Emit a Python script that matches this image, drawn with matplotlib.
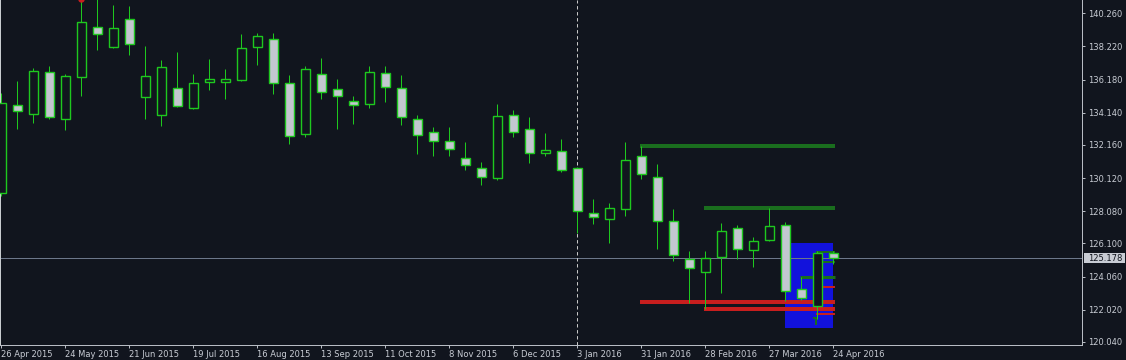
import matplotlib
matplotlib.use('Agg')
import matplotlib.pyplot as plt
from matplotlib.patches import Rectangle

# ---------------- data (weekly OHLC) ----------------
opens = [129.19, 134.60, 134.05, 136.63, 133.74, 136.32, 139.40, 138.21, 139.89, 135.13,
         134.02, 135.65, 134.42, 136.02, 136.02, 136.18, 138.17, 138.66, 135.95, 132.82,
         136.51, 135.59, 134.85, 134.66, 136.57, 135.65, 133.74, 132.94, 132.39, 131.34,
         130.73, 130.11, 133.99, 133.12, 131.65, 131.77, 130.73, 127.96, 127.59, 128.20,
         131.46, 130.17, 127.47, 125.13, 124.33, 125.25, 127.03, 125.68, 126.30, 127.22,
         123.28, 122.24, 125.50]
highs = [135.34, 136.10, 136.88, 137.02, 136.53, 141.25, 141.30, 140.77, 140.71, 138.25,
         137.39, 137.88, 136.53, 137.45, 136.83, 138.99, 139.05, 139.05, 136.46, 137.02,
         137.49, 136.22, 135.15, 137.02, 137.02, 136.46, 133.99, 133.27, 133.27, 132.32,
         131.11, 134.68, 134.31, 133.88, 132.90, 132.53, 130.79, 128.84, 128.59, 132.34,
         132.08, 130.99, 128.22, 125.64, 125.64, 127.34, 127.22, 126.48, 128.28, 127.40,
         124.06, 125.64, 125.64]
lows = [129.05, 133.16, 133.53, 133.78, 133.10, 135.19, 138.02, 138.14, 137.71, 133.78,
        133.35, 134.51, 134.40, 135.56, 135.01, 136.11, 137.10, 135.31, 132.24, 132.67,
        135.01, 133.16, 133.47, 134.45, 134.82, 133.41, 131.62, 131.50, 131.50, 130.64,
        129.70, 130.01, 132.67, 131.07, 131.50, 130.52, 126.76, 127.32, 126.15, 127.81,
        130.09, 125.78, 125.04, 122.46, 122.05, 123.07, 125.13, 124.67, 126.28, 122.54,
        122.61, 121.44, 124.82]
closes = [134.72, 134.23, 136.69, 133.86, 136.38, 139.71, 138.97, 139.34, 138.35, 136.38,
          136.94, 134.58, 135.95, 136.20, 136.20, 138.11, 138.85, 135.95, 132.69, 136.82,
          135.40, 135.15, 134.60, 136.63, 135.71, 133.86, 132.76, 132.39, 131.89, 130.91,
          130.17, 133.92, 132.94, 131.65, 131.83, 130.60, 128.12, 127.71, 128.26, 131.22,
          130.36, 127.47, 125.37, 124.57, 125.19, 126.85, 125.74, 126.23, 127.16, 123.16,
          122.73, 125.50, 125.178]

date_labels = ['26 Apr 2015', '24 May 2015', '21 Jun 2015', '19 Jul 2015', '16 Aug 2015',
               '13 Sep 2015', '11 Oct 2015', '8 Nov 2015', '6 Dec 2015', '3 Jan 2016',
               '31 Jan 2016', '28 Feb 2016', '27 Mar 2016', '24 Apr 2016']
date_bars = [0, 4, 8, 12, 16, 20, 24, 28, 32, 36, 40, 44, 48, 52]
separator_bar = 36

price_ticks = [140.260, 138.220, 136.180, 134.140, 132.160, 130.120, 128.080,
               126.100, 124.060, 122.020, 120.040]
bid_price = 125.178

# support / resistance levels: price, start bar, colour kind
level_prices = [132.08, 128.28, 122.50, 122.07]
level_start = [40, 44, 40, 44]
level_kind = ['res', 'res', 'sup', 'sup']

small_level_prices = [125.60, 124.98, 124.01, 123.43, 121.75]
small_level_start = [51, 51.4, 50, 51.4, 51]
small_level_kind = ['res', 'res', 'res', 'sup', 'sup']
small_level_width = [2, 2, 3, 2, 2]

zone_bars = [49, 52]
zone_prices = [120.90, 126.13]

fractal_bar = 5
fractal_price = 141.11

# ---------------- style ----------------
BG = '#11151e'
GREEN = '#1ec81e'
GRAY = '#c3c7cf'
TXT = '#c8ccd4'
AXC = '#b8bcc4'
DGREEN = '#1a6e1e'
RED = '#c81e1e'
BLUE = '#1212dc'
PX = 0.72  # one pixel in points at 100 dpi

W, H = 1126, 360
fig = plt.figure(figsize=(W / 100, H / 100), dpi=100, facecolor=BG)
ax = fig.add_axes([0, 15 / H, 1082 / W, 345 / H])
ax.set_facecolor(BG)

px_per_bar = 16.0
x0_px = 1.3
ax.set_xlim(-x0_px / px_per_bar, (1082 - x0_px) / px_per_bar)
ax.set_ylim(119.855, 141.078)
ppp = (141.078 - 119.855) / 345.0  # price per pixel

n = len(opens)
body_w = 9.0 / px_per_bar

# zone rectangle
ax.add_patch(Rectangle((zone_bars[0], zone_prices[0]), zone_bars[1] - zone_bars[0],
                       zone_prices[1] - zone_prices[0], facecolor=BLUE, edgecolor='none', zorder=1))

# levels
end_x = n - 1 + 0.1
for p, s, k in zip(level_prices, level_start, level_kind):
    ax.hlines(p, s - 0.08, end_x, color=DGREEN if k == 'res' else RED, lw=4 * PX, zorder=2)
for p, s, k, w in zip(small_level_prices, small_level_start, small_level_kind, small_level_width):
    ax.hlines(p, s - 0.08, end_x, color=DGREEN if k == 'res' else RED, lw=w * PX, zorder=2)
# tiny arrow mark under the last-but-one bar
ax.vlines(50.93, 121.35 - 4 * ppp, 121.35 + 4 * ppp, color=DGREEN, lw=2 * PX, zorder=2)
ax.hlines(121.35 + 3 * ppp, 50.75, 50.95, color=DGREEN, lw=2 * PX, zorder=2)

# bid line
ax.axhline(bid_price, color='#6c778a', lw=1 * PX, zorder=2.5)

# separator
ax.axvline(separator_bar, color='#c8c8c8', lw=1 * PX, ls=(0, (3.4, 2.6)), zorder=2.6)

# candles
for i in range(n):
    o, h, l, c = opens[i], highs[i], lows[i], closes[i]
    ax.vlines(i, l, h, color=GREEN, lw=1 * PX, zorder=3)
    bot = min(o, c)
    ht = max(abs(c - o), ppp)
    fc = BG if c >= o else GRAY
    ax.add_patch(Rectangle((i - body_w / 2, bot), body_w, ht, facecolor=fc,
                           edgecolor=GREEN, lw=1.4 * PX, zorder=4))

# fractal marker
ax.plot(fractal_bar, fractal_price, 'o', ms=5 * PX, color=RED, mec=RED, zorder=5, clip_on=True)

# axes / ticks
for s in ['top']:
    ax.spines[s].set_visible(False)
ax.spines['left'].set_color('#c8ccd0')
ax.spines['bottom'].set_color(AXC)
ax.spines['right'].set_color(AXC)
for s in ['left', 'bottom', 'right']:
    ax.spines[s].set_linewidth(1 * PX)

ax.yaxis.tick_right()
ax.set_yticks(price_ticks)
ax.set_yticklabels(['%.3f' % v for v in price_ticks])
ax.tick_params(axis='y', which='both', right=True, left=False, labelright=True, labelleft=False,
               length=3 * PX, width=1 * PX, color=AXC, labelsize=6, labelcolor=TXT, pad=2.5)
ax.set_xticks(date_bars)
ax.set_xticklabels(date_labels)
ax.tick_params(axis='x', length=3 * PX, width=1 * PX, color=AXC, labelsize=6, labelcolor=TXT, pad=1.5)
for lbl in ax.get_xticklabels():
    lbl.set_horizontalalignment('left')
    lbl.set_x(lbl.get_position()[0])

# bid price label box
tr = ax.get_yaxis_transform()
ax.add_patch(Rectangle((1084 / 1082, bid_price - 5 * ppp), 41 / 1082, 10 * ppp,
                       transform=tr, facecolor='#c8ccd4', edgecolor='none', clip_on=False, zorder=6))
ax.text(1088 / 1082, bid_price, '%.3f' % bid_price, transform=tr, ha='left', va='center',
        fontsize=6, color=BG, zorder=7, clip_on=False)

fig.savefig('out.png', dpi=100, facecolor=BG)
